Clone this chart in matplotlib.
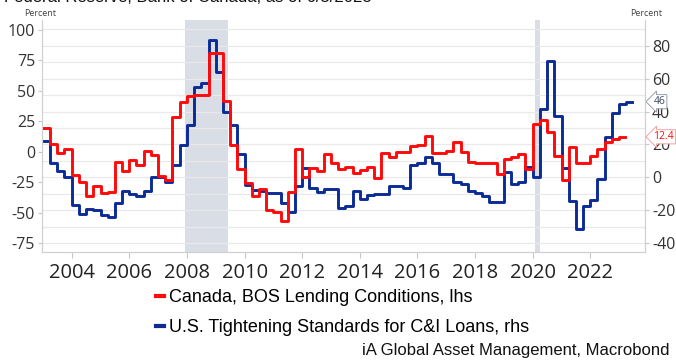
import matplotlib
matplotlib.use("Agg")
import matplotlib.pyplot as plt
import matplotlib.dates as mdates
import matplotlib.transforms as mtransforms
from matplotlib.lines import Line2D
import pandas as pd

plt.rcParams['font.family'] = ['Open Sans', 'DejaVu Sans']
plt.rcParams['axes.unicode_minus'] = False

# quarterly survey values, 2003Q1 onwards
canada = [20, 6.5, -1, 2.5,
          -19, -25, -36, -28,
          -34, -33, -8, -16,
          -7, -11, 0.5, -2.5,
          -20, -23, 28.5, 41,
          46, 47, 47, 81.5,
          81.5, 42, 6, -14,
          -25.5, -36.5, -30.5, -47.5,
          -49, -56.5, -33, 2,
          -20.5, -13, -16, -1.5,
          -9.5, -14, -12, -17.5,
          -14.5, -12.5, -21, -0.5,
          -4.5, 0, 0, 4.5,
          5.5, 13, -0.5, -0.5,
          1, 8.5, 0, -8.5,
          -9.5, -9.5, -9.5, -18.5,
          -6, -4.5, -1.5, -14,
          22.5, 26.5, 16.5, -3,
          -23, 4, -9, -9,
          -3, 2, 8, 10.5,
          12.4]
us = [22, 9, 4, 0.5,
      -17, -22, -19, -20,
      -23, -24, -15.5, -8,
      -10, -11.5, -8, 0.5,
      0.5, -3, 7.5, 19.5,
      32, 55, 57.5, 83.5,
      64, 39.5, 32, 14.5,
      -4.5, -7.5, -8, -9.5,
      -9.5, -15.5, -21, -5,
      6, -6.5, -9, -7,
      -7, -18.5, -17.5, -8,
      -13, -10.5, -10, -10,
      -5, -5, -6.5, 7.5,
      9, 12.5, 9, 2,
      2, -2.5, -4, -8,
      -9.5, -11, -15, -15,
      3, -4, -2.5, 6.5,
      0, 41.5, 71, 37.5,
      6, -14.5, -31.5, -17.5,
      -13.5, -1, 24.5, 39,
      44.5, 46]
canada_last = '2023-03-15'
us_last = '2023-06-10'
recessions = [('2007-12-01', '2009-06-01'), ('2020-02-01', '2020-04-01')]

canada_dates = list(pd.date_range('2003-01-01', periods=len(canada), freq='QS')) + [pd.Timestamp(canada_last)]
us_dates = list(pd.date_range('2003-01-01', periods=len(us), freq='QS')) + [pd.Timestamp(us_last)]

RED = '#ff0a0a'
BLUE = '#0b2b96'

fig = plt.figure(figsize=(6.76, 3.6), dpi=100)
ax = fig.add_axes([42/676, 1-252/360, (645-42)/676, (252-20)/360])
ax2 = ax.twinx()
ax.set_zorder(ax2.get_zorder() + 1)
ax.patch.set_visible(False)

for start, end in recessions:
    ax2.axvspan(pd.Timestamp(start), pd.Timestamp(end), color='#d9dde6', lw=0, zorder=0.3)

ax2.plot(us_dates, us + [us[-1]], drawstyle='steps-post', color=BLUE, lw=2.1)
ax.plot(canada_dates, canada + [canada[-1]], drawstyle='steps-post', color=RED, lw=2.1)

ax.set_xlim(pd.Timestamp('2002-12-20'), pd.Timestamp('2023-11-25'))
ax.set_ylim(-82.1, 108.2)
ax2.set_ylim(-45.3, 95.6)

ax.set_yticks(range(-75, 101, 25))
ax2.set_yticks(range(-40, 81, 20))
ax2.set_yticks(range(-40, 91, 10), minor=True)
ax2.set_axisbelow(True)
ax2.grid(which='both', axis='y', color='#e9e9e9', lw=0.9)
ax2.tick_params(which='minor', length=0)

ax.xaxis.set_major_locator(mdates.YearLocator(2))
ax.xaxis.set_major_formatter(mdates.DateFormatter('%Y'))

for a in (ax, ax2):
    a.spines['top'].set_visible(False)
    for s in ('left', 'right', 'bottom'):
        a.spines[s].set_color('#d0d0d0')
ax.tick_params(axis='x', labelsize=14.5, colors='#c8c8c8', labelcolor='#222222', length=4, pad=4)
ax.tick_params(axis='y', labelsize=11.5, colors='#c8c8c8', labelcolor='#333333', length=3, pad=2)
ax2.tick_params(axis='y', which='major', labelsize=11.5, colors='#c8c8c8', labelcolor='#333333', length=3, pad=2)

fig.text(24/676, 1-14/360, 'Percent', fontsize=6.5, color='#444444', va='center', ha='left')
fig.text(630/676, 1-14/360, 'Percent', fontsize=6.5, color='#444444', va='center', ha='left')
fig.text(4/676, 1-1.5/360, 'Federal Reserve, Bank of Canada, as of 6/5/2023', fontsize=12,
         family=['Liberation Sans', 'DejaVu Sans'], color='#111111', va='baseline', ha='left')

trans2 = mtransforms.blended_transform_factory(ax2.transAxes, ax2.transData)
trans1 = mtransforms.blended_transform_factory(ax.transAxes, ax.transData)
ax2.text(1.014, us[-1], f'{us[-1]:g}', transform=trans2, fontsize=7.5, color='#3b4a66',
         va='center', ha='left', clip_on=False,
         bbox=dict(boxstyle='larrow,pad=0.15', fc='white', ec='#9aa0aa', lw=0.7))
ax.text(1.014, canada[-1], f'{canada[-1]:g}', transform=trans1, fontsize=7.5, color=RED,
        va='center', ha='left', clip_on=False,
        bbox=dict(boxstyle='larrow,pad=0.15', fc='white', ec='#f2a0a0', lw=0.7))

handles = [Line2D([], [], color=RED, lw=3), Line2D([], [], color=BLUE, lw=3)]
labels = ['Canada, BOS Lending Conditions, lhs', 'U.S. Tightening Standards for C&I Loans, rhs']
fig.legend(handles, labels, loc='upper left', bbox_to_anchor=(156/676, 1-289/360),
           frameon=False, handlelength=0.45, handletextpad=0.25, labelspacing=0.72,
           borderaxespad=0, borderpad=0,
           prop={'family': ['Liberation Sans', 'DejaVu Sans'], 'size': 13})

fig.text(670/676, 1-350/360, 'iA Global Asset Management, Macrobond', fontsize=12,
         family=['Liberation Sans', 'DejaVu Sans'],
         color='#111111', ha='right', va='center')

fig.savefig('out.png', dpi=100)
